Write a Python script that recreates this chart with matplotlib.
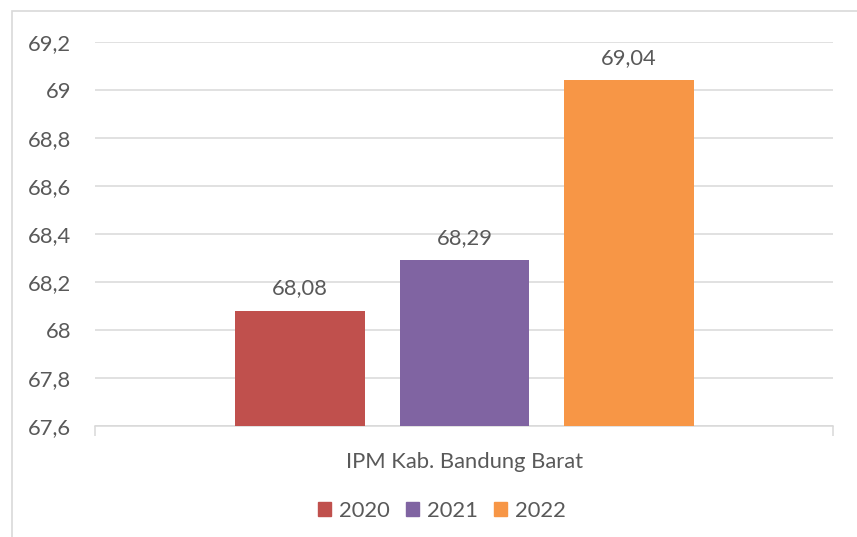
import matplotlib
matplotlib.use('Agg')
import matplotlib.pyplot as plt
from matplotlib.patches import Rectangle

# Data
years = ["2020", "2021", "2022"]
values = [68.08, 68.29, 69.04]
category = "IPM Kab. Bandung Barat"
colors = ["#C0504D", "#8064A2", "#F79646"]
yticks = [67.6, 67.8, 68.0, 68.2, 68.4, 68.6, 68.8, 69.0, 69.2]

plt.rcParams['font.family'] = ['Lato', 'DejaVu Sans']
text_color = "#595959"
grid_color = "#D9D9D9"
fs = 15.8

fig = plt.figure(figsize=(8.57, 5.37), dpi=100)
ax = fig.add_axes([95/857, 1-426/537, (833-95)/857, (426-42)/537])

# outer chart border (extends past right/bottom edge like the source)
fig.patches.append(Rectangle((12/857, -0.1), 1.2, 1-11/537+0.1, transform=fig.transFigure,
                             fill=False, edgecolor=grid_color, linewidth=1.2))

xs = [0, 1, 2]
bars = ax.bar(xs, [v - yticks[0] for v in values], bottom=yticks[0], width=0.789,
              color=colors, zorder=3, label=None)
for x, v in zip(xs, values):
    ax.annotate(f"{v:.2f}".replace('.', ','), (x, v), xytext=(0, 9), textcoords='offset points',
                ha='center', va='bottom', fontsize=fs, color=text_color)

ax.set_ylim(yticks[0], yticks[-1])
ax.set_yticks(yticks)
ax.set_yticklabels([f"{t:g}".replace('.', ',') for t in yticks])
ax.yaxis.grid(True, color=grid_color, linewidth=1.1, zorder=0)
ax.tick_params(axis='y', length=0, pad=17, labelsize=fs, labelcolor=text_color)

xl, xr = -1.243, 3.237
ax.set_xlim(xl, xr)
ax.set_xticks([1])
ax.set_xticklabels([category])
ax.tick_params(axis='x', length=0, pad=19, labelsize=fs, labelcolor=text_color)
ax.set_xticks([xl, xr], minor=True)
ax.tick_params(axis='x', which='minor', length=7, width=1.1, color=grid_color)

for s in ['top', 'right', 'left']:
    ax.spines[s].set_visible(False)
ax.spines['bottom'].set_color(grid_color)
ax.spines['bottom'].set_linewidth(1.1)

handles = [Rectangle((0, 0), 1, 1, color=c) for c in colors]
fig.legend(handles, years, loc='center', bbox_to_anchor=(442/857, 1-511/537), ncol=3,
           frameon=False, fontsize=fs, labelcolor=text_color, handlelength=0.6,
           handleheight=0.6, handletextpad=0.35, columnspacing=0.75)

fig.savefig("out.png", dpi=100)
